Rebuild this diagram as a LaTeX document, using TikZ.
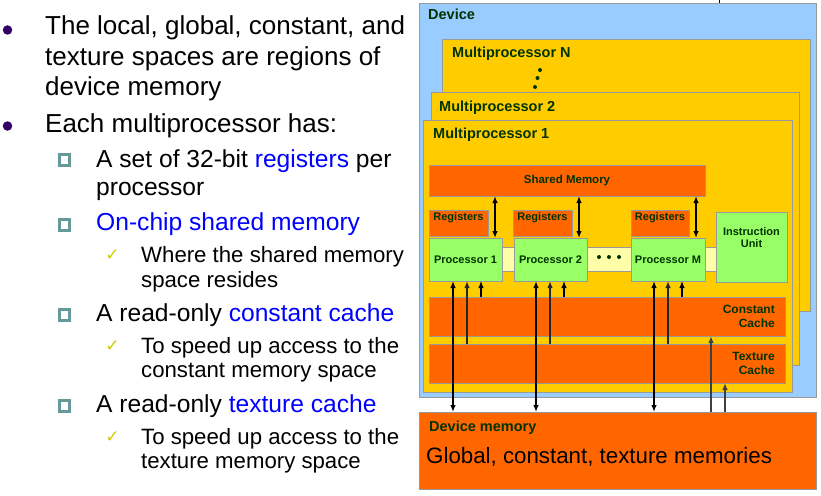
\documentclass[tikz,border=0pt]{standalone}
\usepackage{fontspec}
\setmainfont{Liberation Sans}
\newfontfamily\symfont{DejaVu Sans}
\usetikzlibrary{arrows.meta}

\definecolor{devblue}{HTML}{99CCFF}
\definecolor{mpgold}{HTML}{FFCC00}
\definecolor{memorange}{HTML}{FF6600}
\definecolor{procgreen}{HTML}{99FF66}
\definecolor{busyellow}{HTML}{FFFFAA}
\definecolor{edgegray}{HTML}{999999}
\definecolor{labelgreen}{HTML}{003300}
\definecolor{bulletpurple}{HTML}{330066}
\definecolor{sqteal}{HTML}{669999}
\definecolor{checkyellow}{HTML}{CCCC00}
\definecolor{hiblue}{HTML}{0000FF}

\tikzset{
  blk/.style={draw=edgegray, line width=0.9pt, inner sep=0pt, outer sep=0pt, anchor=north west},
  devbox/.style={blk, fill=devblue},
  mpbox/.style={blk, fill=mpgold},
  membox/.style={blk, fill=memorange},
  procbox/.style={blk, fill=procgreen, font=\bfseries\fontsize{11}{12}\selectfont, text=labelgreen},
  busbox/.style={blk, fill=busyellow},
  biglbl/.style={inner sep=0pt, anchor=base west, text=labelgreen, font=\bfseries\fontsize{14.5}{16}\selectfont},
  smlbl/.style={inner sep=0pt, text=labelgreen, font=\bfseries\fontsize{11}{12}\selectfont},
  cachelbl/.style={inner sep=0pt, anchor=base east, align=right, text=labelgreen, font=\bfseries\fontsize{12}{14}\selectfont},
  lvlone/.style={inner sep=0pt, anchor=base west, font=\fontsize{26}{30}\selectfont},
  lvltwo/.style={inner sep=0pt, anchor=base west, font=\fontsize{24.6}{28}\selectfont},
  lvlthree/.style={inner sep=0pt, anchor=base west, font=\fontsize{22.2}{26}\selectfont},
  roundbullet/.style={circle, fill=bulletpurple, inner sep=0pt, minimum size=9.5pt},
  squarebullet/.style={rectangle, draw=sqteal, fill=white, line width=2.6pt, inner sep=0pt, minimum size=10.5pt},
  checkmark/.style={inner sep=0pt, text=checkyellow, font=\symfont\fontsize{17}{17}\selectfont},
  dot/.style={circle, fill=labelgreen, inner sep=0pt, minimum size=4pt},
  dblarr/.style={{Latex[length=7pt,width=5.5pt]}-{Latex[length=7pt,width=5.5pt]}, line width=1.3pt},
  texarr/.style={-{Latex[length=7pt,width=5.5pt]}, line width=1.8pt, draw=black!85},
  constarr/.style={-{Latex[length=7pt,width=5.5pt]}, line width=1.1pt},
  memarr/.style={-{Latex[length=7pt,width=5.5pt]}, line width=1.5pt, draw=black!75},
}

\begin{document}
\begin{tikzpicture}[x=1pt, y=-1pt]
\useasboundingbox (0,0) rectangle (821,495);

% ---------- bullet text ----------
\node[roundbullet] (b1) at (7.5,30) {};
\node[lvlone] (t1) at (45,35) {The local, global, constant, and};
\node[lvlone] (t2) at (45,65) {texture spaces are regions of};
\node[lvlone] (t3) at (45,95) {device memory};
\node[roundbullet] (b2) at (7.5,126) {};
\node[lvlone] (t4) at (45,132) {Each multiprocessor has:};

\node[squarebullet] (s1) at (64.5,160) {};
\node[lvltwo] (t5) at (96,167) {A set of 32-bit {\color{hiblue}registers} per};
\node[lvltwo] (t6) at (96,195) {processor};
\node[squarebullet] (s2) at (64.5,225) {};
\node[lvltwo, text=hiblue] (t7) at (96,230) {On-chip shared memory};
\node[checkmark] (c1) at (112.5,255) {✓};
\node[lvlthree] (t8) at (141,262) {Where the shared memory};
\node[lvlthree] (t9) at (141,287) {space resides};

\node[squarebullet] (s3) at (64.5,315) {};
\node[lvltwo] (t10) at (96,321) {A read-only {\color{hiblue}constant cache}};
\node[checkmark] (c2) at (112.5,346) {✓};
\node[lvlthree] (t11) at (141,353) {To speed up access to the};
\node[lvlthree] (t12) at (141,377) {constant memory space};

\node[squarebullet] (s4) at (64.5,406) {};
\node[lvltwo] (t13) at (96,412) {A read-only {\color{hiblue}texture cache}};
\node[checkmark] (c3) at (112.5,437) {✓};
\node[lvlthree] (t14) at (141,444) {To speed up access to the};
\node[lvlthree] (t15) at (141,468) {texture memory space};

% ---------- device and multiprocessors ----------
\coordinate (stubtop) at (719,0);
\coordinate (stubbot) at (719,4);
\draw[line width=0.8pt] (stubtop) -- (stubbot);

\node[devbox, minimum width=397pt, minimum height=394pt] (dev) at (419,3) {};
\node[biglbl] (devt) at (428,20) {Device};

\node[mpbox, minimum width=368pt, minimum height=272pt] (mpN) at (442,39) {};
\node[biglbl] (mpNt) at (452,57) {Multiprocessor N};
\node[dot] (vd1) at (540,70) {};
\node[dot] (vd2) at (537.5,78) {};
\node[dot] (vd3) at (535,87) {};

\node[mpbox, minimum width=368pt, minimum height=273pt] (mp2) at (431,92) {};
\node[biglbl] (mp2t) at (439,111) {Multiprocessor 2};

\node[mpbox, minimum width=369pt, minimum height=272pt] (mp1) at (423,120) {};
\node[biglbl] (mp1t) at (433,138) {Multiprocessor 1};

% ---------- inside multiprocessor 1 ----------
\node[membox, minimum width=276pt, minimum height=31pt,
      font=\bfseries\fontsize{11.5}{13}\selectfont, text=labelgreen] (sm) at (429,165) {Shared Memory};

\node[membox, minimum width=59pt, minimum height=26pt] (r1) at (429,210) {};
\node[membox, minimum width=59pt, minimum height=26pt] (r2) at (513,210) {};
\node[membox, minimum width=58pt, minimum height=26pt] (r3) at (631,210) {};
\node[smlbl, anchor=base] (r1t) at ([yshift=-10pt]r1.north) {Registers};
\node[smlbl, anchor=base] (r2t) at ([yshift=-10pt]r2.north) {Registers};
\node[smlbl, anchor=base] (r3t) at ([yshift=-10pt]r3.north) {Registers};

\node[busbox, minimum width=214pt, minimum height=24pt] (bus) at (502,247) {};
\node[procbox, minimum width=73pt, minimum height=43pt] (p1) at (429,238) {Processor 1};
\node[procbox, minimum width=73pt, minimum height=43pt] (p2) at (514,238) {Processor 2};
\node[procbox, minimum width=74pt, minimum height=43pt] (pM) at (631,238) {Processor M};
\node[dot] (hd1) at (599,257) {};
\node[dot] (hd2) at (609,257) {};
\node[dot] (hd3) at (619,257) {};

% multi-line labels: the base anchor sits on the last line
\node[procbox, minimum width=71pt, minimum height=70pt] (iu) at (716,212) {};
\node[smlbl, anchor=base, align=center] (iut) at ([yshift=-35pt]iu.north) {Instruction\\[-0.5pt]Unit};

\node[membox, minimum width=356pt, minimum height=39pt] (cc) at (429,297) {};
\node[cachelbl] (cct) at ([xshift=-10pt,yshift=-30pt]cc.north east) {Constant\\Cache};
\node[membox, minimum width=356pt, minimum height=39pt] (tc) at (429,344) {};
\node[cachelbl] (tct) at ([xshift=-10pt,yshift=-30pt]tc.north east) {Texture\\Cache};

% ---------- device memory ----------
\node[membox, minimum width=397pt, minimum height=77pt] (dm) at (419,412) {};
\node[biglbl] (dmt) at (429,431) {Device memory};
\node[inner sep=0pt, anchor=base west, font=\fontsize{22.3}{26}\selectfont] (dmg) at (426,463) {Global, constant, texture memories};

% ---------- connectors ----------
\coordinate (xa1) at (495,0);
\coordinate (xa2) at (579,0);
\coordinate (xa3) at (696,0);
\draw[dblarr] (sm.south -| xa1) -- (p1.north -| xa1);
\draw[dblarr] (sm.south -| xa2) -- (p2.north -| xa2);
\draw[dblarr] (sm.south -| xa3) -- (pM.north -| xa3);

\coordinate (xg1) at (453,0);
\coordinate (xt1) at (467,0);
\coordinate (xc1) at (481,0);
\coordinate (xg2) at (536,0);
\coordinate (xt2) at (550,0);
\coordinate (xc2) at (564,0);
\coordinate (xg3) at (654,0);
\coordinate (xt3) at (668,0);
\coordinate (xc3) at (682,0);
\coordinate (xdc) at (711,0);
\coordinate (xdt) at (725,0);

\draw[dblarr] (p1.south -| xg1) -- (dm.north -| xg1);
\draw[texarr] (tc.north -| xt1) -- (p1.south -| xt1);
\draw[constarr] (cc.north -| xc1) -- (p1.south -| xc1);

\draw[dblarr] (p2.south -| xg2) -- (dm.north -| xg2);
\draw[texarr] (tc.north -| xt2) -- (p2.south -| xt2);
\draw[constarr] (cc.north -| xc2) -- (p2.south -| xc2);

\draw[dblarr] (pM.south -| xg3) -- (dm.north -| xg3);
\draw[texarr] (tc.north -| xt3) -- (pM.south -| xt3);
\draw[constarr] (cc.north -| xc3) -- (pM.south -| xc3);

\draw[memarr] (dm.north -| xdc) -- (cc.south -| xdc);
\draw[memarr] (dm.north -| xdt) -- (tc.south -| xdt);
\end{tikzpicture}
\end{document}
